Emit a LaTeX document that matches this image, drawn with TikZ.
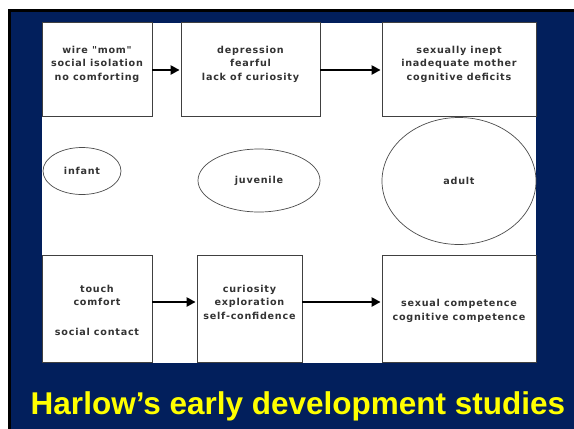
\documentclass[tikz,border=0pt]{standalone}
\usepackage{fontspec}
\usetikzlibrary{arrows.meta,shapes.geometric}
\newfontfamily\boxfont[LetterSpace=8]{DejaVu Sans}
\newfontfamily\titlefont{Liberation Sans}
\definecolor{slidenavy}{RGB}{2,31,92}
\definecolor{titleyellow}{RGB}{255,255,0}
\begin{document}
\begin{tikzpicture}[x=1pt,y=-1pt,
  stagebox/.style={draw=black!75, line width=0.8pt, fill=white, rectangle,
    inner sep=0pt},
  stagetext/.style={align=center, text=black!80, inner sep=0pt,
    font=\boxfont\bfseries\fontsize{9.6}{13.5}\selectfont},
  agering/.style={stagetext, draw=black!70, line width=0.7pt, ellipse, inner sep=0pt},
  flow/.style={line width=2.6pt, -{Triangle[length=9pt,width=9pt]}, shorten >=1pt}
]
\useasboundingbox (0,0) rectangle (574,429);
% slide frame
\fill[white] (0,0) rectangle (574,429);
\fill[black] (8,9) rectangle (574,429);
\fill[slidenavy] (11,12) rectangle (574,429);
% white diagram panel
\fill[white] (42,23) rectangle (536,363);

% deprived path (top row)
\node[stagebox, minimum width=110pt, minimum height=94pt] (b1) at (97,69) {};
\node[stagebox, minimum width=139pt, minimum height=94pt] (b2) at (250.5,69) {};
\node[stagebox, minimum width=154pt, minimum height=94pt] (b3) at (459,69) {};
\node[stagetext] (t1) at (97,64) {wire "mom"\\social isolation\\no comforting};
\node[stagetext] (t2) at (250.5,64) {depression\\fearful\\lack of curiosity};
\node[stagetext] (t3) at (459,64) {sexually inept\\inadequate mother\\cognitive deficits};
\draw[flow] (b1.east |- 0,70) -- (b2.west |- 0,70);
\draw[flow] (b2.east |- 0,70) -- (b3.west |- 0,70);

% life stages
\node[agering, minimum width=78pt, minimum height=47pt] (infant) at (82,171) {infant};
\node[agering, minimum width=122pt, minimum height=63pt] (juvenile) at (259,180.5) {juvenile};
\node[agering, minimum width=154pt, minimum height=127pt] (adult) at (459,181) {adult};

% nurtured path (bottom row)
\node[stagebox, minimum width=110pt, minimum height=107pt] (b4) at (97,308.5) {};
\node[stagebox, minimum width=105pt, minimum height=107pt] (b5) at (249.5,308.5) {};
\node[stagebox, minimum width=154pt, minimum height=107pt] (b6) at (459,308.5) {};
\node[stagetext, anchor=north] (t4) at (97,285) {touch\\comfort\\[16pt]social contact};
\node[stagetext] (t5) at (249.5,302) {curiosity\\exploration\\self-confidence};
\node[stagetext] (t6) at (459,311) {sexual competence\\cognitive competence};
\draw[flow] (b4.east |- 0,302) -- (b5.west |- 0,302);
\draw[flow] (b5.east |- 0,302) -- (b6.west |- 0,302);

% slide title
\node[anchor=base, text=titleyellow, inner sep=0pt,
  font=\titlefont\bfseries\fontsize{31.5}{36}\selectfont]
  (title) at (298,414) {Harlow’s early development studies};
\end{tikzpicture}
\end{document}
